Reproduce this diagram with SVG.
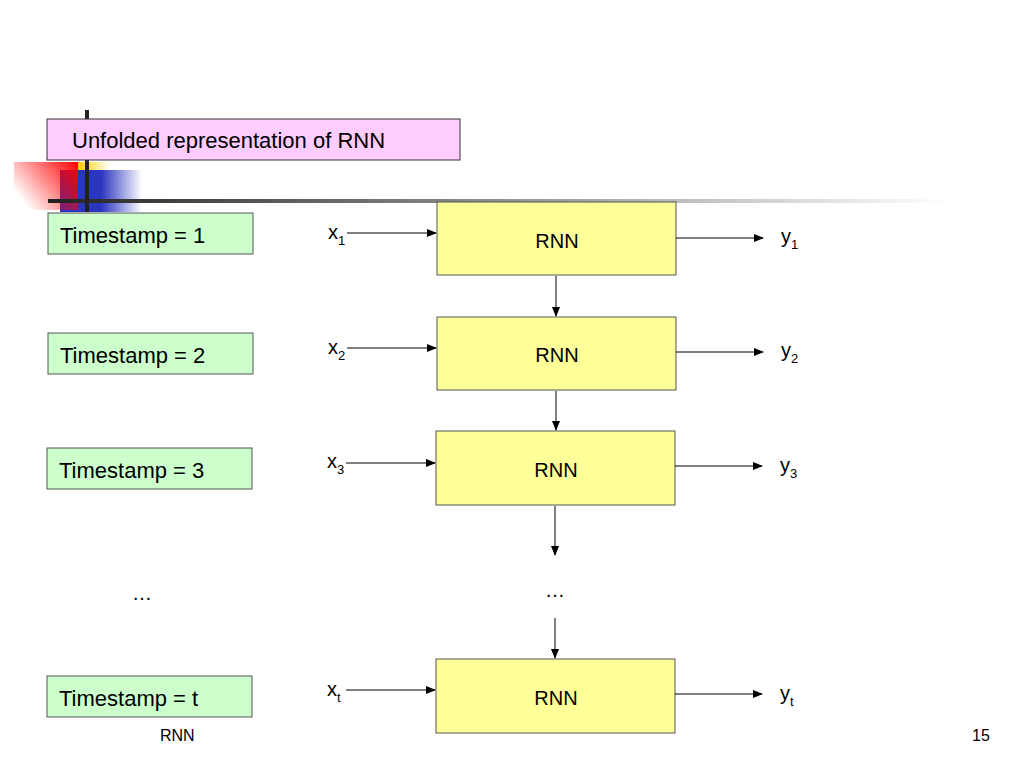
<svg xmlns="http://www.w3.org/2000/svg" width="1024" height="768" viewBox="0 0 1024 768">
<defs>
<linearGradient id="red" x1="1" y1="0" x2="0" y2="0.6"><stop offset="0" stop-color="#f00"/><stop offset="1" stop-color="#f00" stop-opacity="0"/></linearGradient>
<linearGradient id="blue" x1="0" y1="0" x2="1" y2="0"><stop offset="0.5" stop-color="#2a35c0"/><stop offset="1" stop-color="#2a35c0" stop-opacity="0"/></linearGradient>
<linearGradient id="yel" x1="0" y1="0" x2="1" y2="0"><stop offset="0" stop-color="#fc0"/><stop offset="1" stop-color="#fc0" stop-opacity="0"/></linearGradient>
<linearGradient id="line" x1="0" y1="0" x2="1" y2="0"><stop offset="0" stop-color="#222"/><stop offset="1" stop-color="#fff"/></linearGradient>
<marker id="ah" markerWidth="10" markerHeight="8" refX="9" refY="4" orient="auto" markerUnits="userSpaceOnUse"><path d="M0,0 L10,4 L0,8 Z" fill="#000"/></marker>
</defs>
<style>
text{font-family:"Liberation Sans",Arial,sans-serif;fill:#000}
.ts{fill:#ccffcc;stroke:#555;stroke-width:1}
.rnn{fill:#ffff99;stroke:#555;stroke-width:1}
.c{stroke:#000;stroke-width:1;fill:none;marker-end:url(#ah)}
.t{font-size:22px}
.s{font-size:20px}
.sub{font-size:13px}
</style>
<rect width="1024" height="768" fill="#fff"/>
<g id="decor">
<rect x="78" y="162" width="32" height="9" fill="url(#yel)"/>
<rect x="60" y="170" width="82" height="42" fill="url(#blue)"/>
<rect x="14" y="162" width="64" height="48" fill="url(#red)"/>
<rect x="48" y="199" width="900" height="4" fill="url(#line)"/>
<rect x="85" y="110" width="4" height="102" fill="#222"/>
</g>
<g id="title"><rect x="47" y="119" width="413" height="41" fill="#ffccff" stroke="#333"/><text x="72" y="148" class="t">Unfolded representation of RNN</text></g>
<g id="ts1"><rect class="ts" x="48" y="213" width="205" height="41"/><text x="60" y="243" class="t">Timestamp = 1</text></g>
<g id="ts2"><rect class="ts" x="48" y="333" width="205" height="41"/><text x="60" y="363" class="t">Timestamp = 2</text></g>
<g id="ts3"><rect class="ts" x="47" y="448" width="205" height="41"/><text x="59" y="478" class="t">Timestamp = 3</text></g>
<g id="tst"><rect class="ts" x="47" y="676" width="205" height="41"/><text x="59" y="706" class="t">Timestamp = t</text></g>
<g id="rnn1"><rect class="rnn" x="437" y="202" width="239" height="73"/><text x="557" y="248" class="s" text-anchor="middle">RNN</text></g>
<g id="rnn2"><rect class="rnn" x="437" y="317" width="239" height="73"/><text x="557" y="362" class="s" text-anchor="middle">RNN</text></g>
<g id="rnn3"><rect class="rnn" x="436" y="431" width="239" height="74"/><text x="556" y="477" class="s" text-anchor="middle">RNN</text></g>
<g id="rnnt"><rect class="rnn" x="436" y="659" width="239" height="74"/><text x="556" y="705" class="s" text-anchor="middle">RNN</text></g>
<g id="labels">
<text x="328" y="239" class="s">x<tspan class="sub" dy="6">1</tspan></text>
<text x="328" y="354" class="s">x<tspan class="sub" dy="6">2</tspan></text>
<text x="327" y="468" class="s">x<tspan class="sub" dy="6">3</tspan></text>
<text x="327" y="696" class="s">x<tspan class="sub" dy="6">t</tspan></text>
<text x="781" y="243" class="s">y<tspan class="sub" dy="6">1</tspan></text>
<text x="781" y="357" class="s">y<tspan class="sub" dy="6">2</tspan></text>
<text x="780" y="472" class="s">y<tspan class="sub" dy="6">3</tspan></text>
<text x="780" y="700" class="s">y<tspan class="sub" dy="6">t</tspan></text>
<text x="142" y="600" class="s" text-anchor="middle">…</text>
<text x="555" y="597" class="s" text-anchor="middle">…</text>
<text x="160" y="741" font-size="16">RNN</text>
<text x="981" y="741" font-size="16" text-anchor="middle">15</text>
</g>
<g id="connectors">
<line class="c" x1="347" y1="233" x2="436" y2="233"/>
<line class="c" x1="347" y1="348" x2="436" y2="348"/>
<line class="c" x1="346" y1="463" x2="435" y2="463"/>
<line class="c" x1="346" y1="690" x2="435" y2="690"/>
<line class="c" x1="676" y1="238" x2="763" y2="238"/>
<line class="c" x1="676" y1="352" x2="763" y2="352"/>
<line class="c" x1="675" y1="466" x2="762" y2="466"/>
<line class="c" x1="675" y1="694" x2="762" y2="694"/>
<line class="c" x1="556" y1="276" x2="556" y2="316"/>
<line class="c" x1="556" y1="391" x2="556" y2="430"/>
<line class="c" x1="555" y1="506" x2="555" y2="555"/>
<line class="c" x1="555" y1="618" x2="555" y2="658"/>
</g>
</svg>
